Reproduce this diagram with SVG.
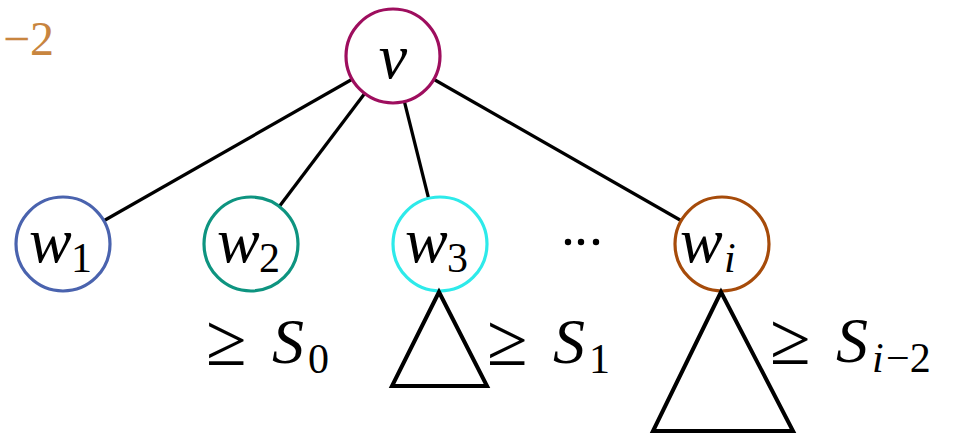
<svg xmlns="http://www.w3.org/2000/svg" width="958" height="433" viewBox="0 0 958 433">
<style>
.n{fill:#fff;stroke-width:3.2}
.e{stroke:#000;stroke-width:3.2;fill:none}
.t{stroke:#000;stroke-width:4;fill:none;stroke-linejoin:miter}
.m{font-style:italic;font-size:64px;fill:#000}
.s{font-size:42px;fill:#000}
.si{font-style:italic;font-size:42px;fill:#000}
.g{font-size:74px;fill:#000}
</style>
<g font-family="Liberation Serif, DejaVu Serif, serif">
<text x="54" y="55" text-anchor="end" font-size="48" fill="#C8853F">−2</text>
<g id="connectors">
<line class="e" x1="393" y1="56" x2="63" y2="244"/>
<line class="e" x1="393" y1="56" x2="251" y2="244"/>
<line class="e" x1="393" y1="56" x2="440" y2="244"/>
<line class="e" x1="393" y1="56" x2="722" y2="244"/>
</g>
<g id="v"><circle class="n" cx="393" cy="56" r="47" stroke="#9E0E5E"/><text class="m" x="393" y="78" text-anchor="middle">v</text></g>
<g id="w1"><circle class="n" cx="63" cy="244" r="47" stroke="#4A63AE"/><text class="m" x="29" y="262">w</text><text class="s" x="71" y="272">1</text></g>
<g id="w2"><circle class="n" cx="251" cy="244" r="47" stroke="#0E9480"/><text class="m" x="217" y="262">w</text><text class="s" x="259" y="272">2</text></g>
<g id="w3"><circle class="n" cx="440" cy="244" r="47" stroke="#2DEAEA"/><text class="m" x="405" y="262">w</text><text class="s" x="447" y="272">3</text></g>
<g id="dots"><circle cx="568" cy="242" r="3.2"/><circle cx="581" cy="242" r="3.2"/><circle cx="596" cy="242" r="3.2"/></g>
<g id="wi"><circle class="n" cx="722" cy="244" r="47" stroke="#A64B0A"/><text class="m" x="680" y="262">w</text><text class="si" x="724" y="272">i</text></g>
<g id="t3"><polygon class="t" points="439,292 392,386 487,386"/></g>
<g id="ti"><polygon class="t" points="721,292 653,431 793,431"/></g>
<g id="l0"><text class="g" x="206" y="365">≥</text><text class="m" x="272" y="363">S</text><text class="s" x="308" y="373">0</text></g>
<g id="l1"><text class="g" x="487" y="365">≥</text><text class="m" x="553" y="363">S</text><text class="s" x="589" y="373">1</text></g>
<g id="li"><text class="g" x="770" y="364">≥</text><text class="m" x="836" y="362">S</text><text class="si" x="872" y="372">i</text><text class="s" x="886" y="372">−2</text></g>
</g>
</svg>
